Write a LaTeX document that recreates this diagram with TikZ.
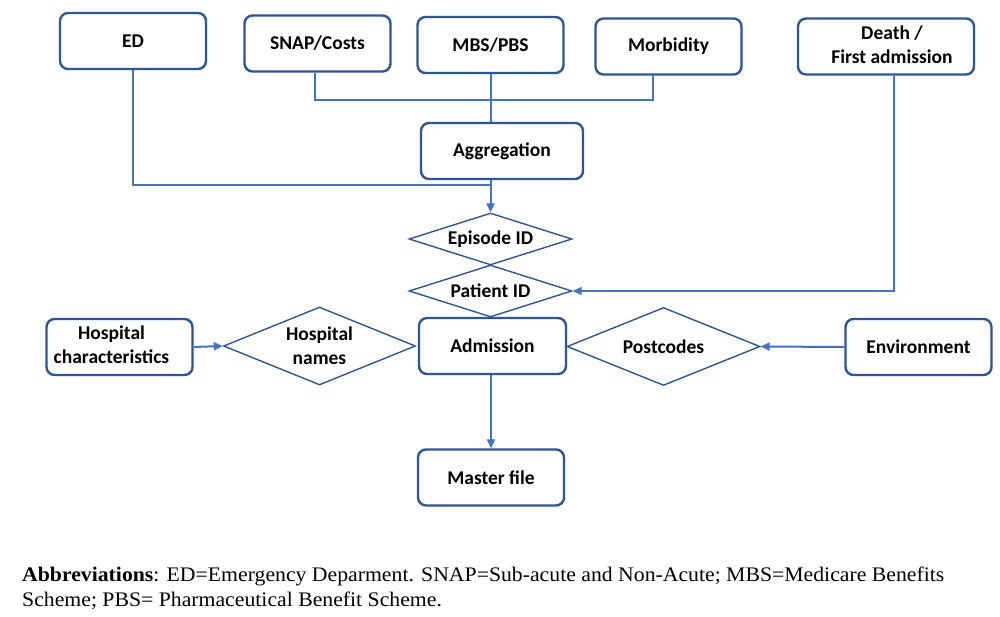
\documentclass[tikz,border=0pt]{standalone}
\usepackage{fontspec}
\setmainfont{Carlito}
\newfontfamily\timesfont{Liberation Serif}
\usetikzlibrary{shapes.geometric,arrows.meta}
\definecolor{boxblue}{HTML}{2F5597}
\definecolor{lineblue}{HTML}{4472C4}
\tikzset{
  databox/.style={draw=boxblue, line width=2.4pt, rounded corners=8pt, fill=white,
    minimum width=146pt, minimum height=56pt, inner sep=0pt, align=center,
    font=\fontsize{19.5}{24}\selectfont\bfseries},
  keydiamond/.style={draw=boxblue, line width=1.4pt, diamond, inner sep=0pt, align=center,
    font=\fontsize{19.5}{24}\selectfont\bfseries},
  conn/.style={draw=lineblue, line width=2pt},
  arr/.style={conn, -{Triangle[length=9pt,width=8pt]}},
}
\begin{document}
\begin{tikzpicture}[x=1pt,y=-1pt]
\useasboundingbox (0,0) rectangle (1000,617);
% top boxes
\node[databox] (ed) at (133,41) {ED};
\node[databox] (snap) at (317.5,43.5) {SNAP/Costs};
\node[databox] (mbs) at (490.5,45) {MBS/PBS};
\node[databox] (morb) at (668.5,46.5) {Morbidity};
\node[databox, minimum width=176pt] (death) at (886,46.5)
  {\raisebox{-3pt}{\begin{tabular}{@{\hspace{12pt}}c@{}}Death /\\First admission\end{tabular}}};
\node[databox, minimum width=162pt] (aggr) at (502,151) {Aggregation};
% diamonds
\node[keydiamond, aspect=3.13, minimum width=163pt, minimum height=52pt] (epi) at (490.5,239) {Episode ID};
\node[keydiamond, aspect=3.13, minimum width=163pt, minimum height=52pt] (pat) at (490.5,291) {Patient ID};
\node[databox, minimum width=147pt] (adm) at (492.5,346) {Admission};
\node[databox] (hosp) at (119.5,347)
  {\begin{tabular}{@{}c@{\hspace{16pt}}}Hospital\\characteristics\end{tabular}};
\node[keydiamond, aspect=2.46, minimum width=192pt, minimum height=78pt] (hn) at (319.5,346) {Hospital\\names};
\node[keydiamond, aspect=2.47, minimum width=193pt, minimum height=78pt] (pc) at (663.5,346.5) {Postcodes};
\node[databox] (env) at (918.5,347) {Environment};
\node[databox] (master) at (491,477.5) {Master file};
% connectors
\coordinate (j1) at (490.5,185);
\coordinate (j2) at (490.5,100);
\draw[conn] (ed.south) |- (j1);
\draw[conn] (snap.south -| 315,0) |- (j2) -| (morb.south -| 653,0);
\draw[conn] (mbs.south) -- (aggr.north -| mbs.south);
\draw[arr] (aggr.south -| epi.north) -- (epi.north);
\draw[arr] (death.south -| 894,0) |- (pat.east);
\draw[arr] (hosp.east) -- (hn.west);
\draw[arr] (env.west) -- (pc.east);
\draw[arr] (adm.south -| master.north) -- (master.north);
% abbreviations
\node[anchor=base west, inner sep=0pt, align=left, font=\timesfont\fontsize{20.7}{25}\selectfont] (abbr) at (22,606)
  {\scalebox{1.05}[1]{\textbf{Abbreviations}: ED=Emergency Deparment. SNAP=Sub-acute and Non-Acute; MBS=Medicare Benefits}\\
   \scalebox{1.05}[1]{Scheme; PBS= Pharmaceutical Benefit Scheme.}};
\end{tikzpicture}
\end{document}
